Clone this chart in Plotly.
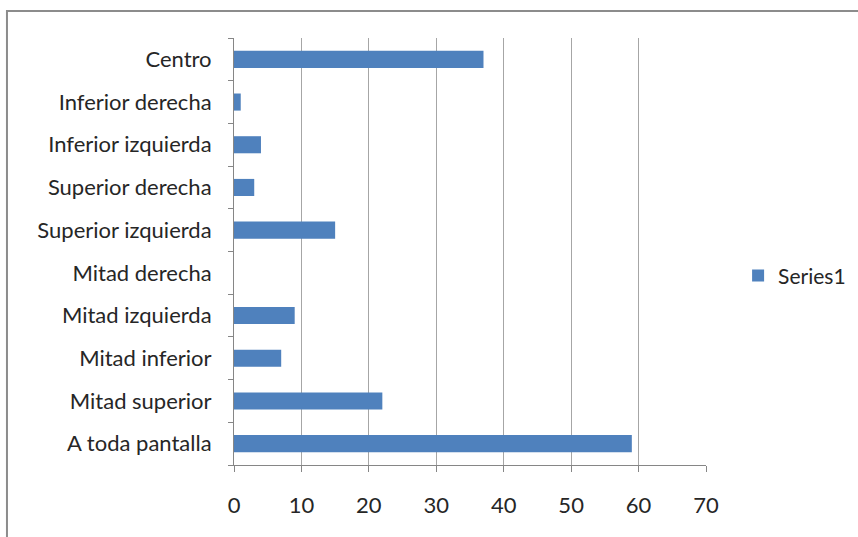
import plotly.graph_objects as go

categories = [
    "A toda pantalla", "Mitad superior", "Mitad inferior", "Mitad izquierda",
    "Mitad derecha", "Superior izquierda", "Superior derecha",
    "Inferior izquierda", "Inferior derecha", "Centro",
]
values = [59, 22, 7, 9, 0, 15, 3, 4, 1, 37]
x_ticks = [0, 10, 20, 30, 40, 50, 60, 70]

FONT = "Lato"
AXIS_GRAY = "#868686"
GRID_GRAY = "#a6a6a6"

fig = go.Figure(
    go.Bar(
        x=values,
        y=categories,
        orientation="h",
        name="Series1",
        marker=dict(color="#4F81BD", line=dict(width=0)),
        showlegend=True,
    )
)

fig.update_layout(
    width=858,
    height=537,
    margin=dict(l=234, r=152, t=38, b=72, autoexpand=False),
    paper_bgcolor="white",
    plot_bgcolor="white",
    bargap=0.6,
    font=dict(family=FONT, size=22, color="#262626"),
    showlegend=True,
    legend=dict(
        x=1.068, y=0.443, xanchor="left", yanchor="middle",
        font=dict(family=FONT, size=21, color="#262626"),
        itemwidth=30,
        bgcolor="rgba(0,0,0,0)",
    ),
    xaxis=dict(
        range=[0, 70],
        tickvals=x_ticks,
        showgrid=True,
        gridcolor=GRID_GRAY,
        gridwidth=1,
        zeroline=False,
        showline=True,
        linecolor=AXIS_GRAY,
        linewidth=1,
        ticks="outside",
        ticklen=6,
        tickcolor=AXIS_GRAY,
        ticklabelstandoff=15,
        fixedrange=True,
    ),
    yaxis=dict(
        type="category",
        categoryorder="array",
        categoryarray=categories,
        showline=True,
        linecolor=AXIS_GRAY,
        linewidth=1,
        ticks="outside",
        tickson="boundaries",
        ticklen=5,
        tickcolor=AXIS_GRAY,
        ticklabelstandoff=17,
        showgrid=False,
        fixedrange=True,
    ),
    shapes=[
        dict(
            type="rect", xref="paper", yref="paper",
            x0=-0.481, x1=1.4, y0=-0.3, y1=1.0632,
            line=dict(color="#8c8c8c", width=2),
            fillcolor="rgba(0,0,0,0)",
            layer="below",
        )
    ],
)

fig.write_html("out.html")
